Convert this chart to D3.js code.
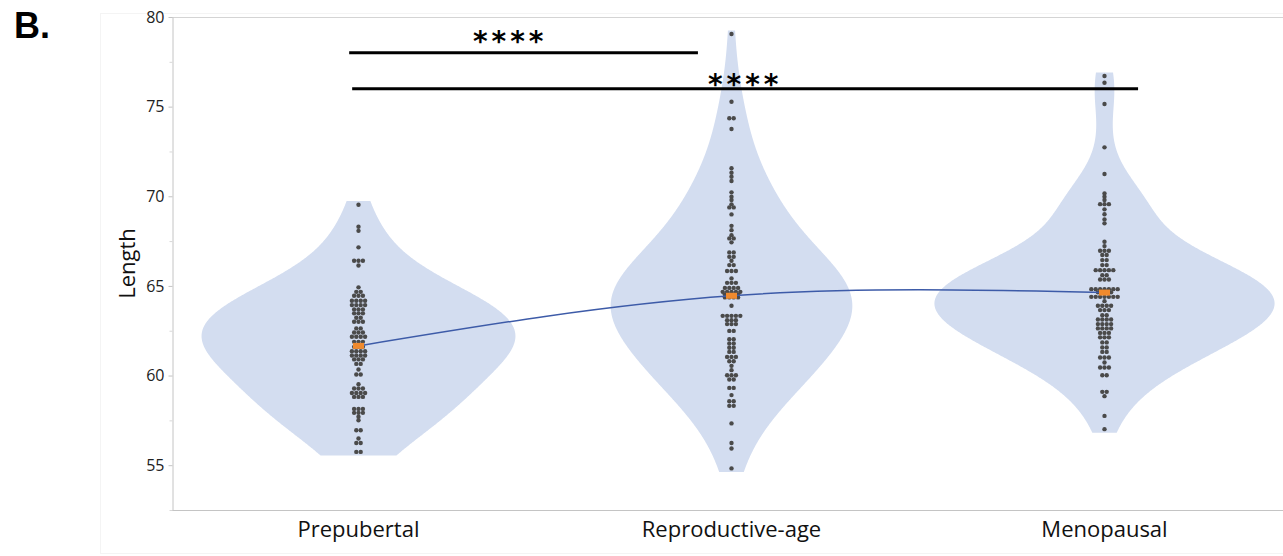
<!DOCTYPE html>
<html>
<head>
<meta charset="utf-8">
<script src="https://cdn.jsdelivr.net/npm/d3@7"></script>
<style>
  body { margin: 0; background: #fff; }
  svg { display: block; }
</style>
</head>
<body>
<div id="chart"></div>
<script>
const categories = ["Prepubertal", "Reproductive-age", "Menopausal"];

// Length values, one entry per dot
const prepubertal = [
  69.53, 68.30, 68.07, 67.15, 66.40, 66.40, 66.40, 66.14,
  64.92, 64.67, 64.67, 64.45, 64.45, 64.45,
  64.17, 64.17, 64.17, 64.17, 63.93, 63.93, 63.93, 63.93,
  63.69, 63.69, 63.69, 63.47, 63.47, 63.47, 63.22, 63.22,
  63.00, 63.00, 63.00, 62.63, 62.63, 62.40, 62.40, 62.40,
  62.16, 62.16, 62.16, 62.16, 61.88, 61.88, 61.88, 61.60, 61.60, 61.60,
  61.36, 61.36, 61.36, 61.36, 61.12, 61.12, 61.12, 61.12,
  60.90, 60.90, 60.90, 60.65, 60.65, 60.34, 60.06, 60.06,
  59.52, 59.28, 59.28, 59.28, 59.03, 59.03, 59.03, 59.03,
  58.81, 58.81, 58.81, 58.14, 58.14, 58.14, 57.92, 57.92, 57.92,
  57.70, 57.51, 56.95, 56.95, 56.49, 56.24, 56.24, 55.74, 55.74
];
const reproductive = [
  79.05, 75.27, 74.35, 74.35, 73.75, 71.56, 71.31, 71.09, 70.85,
  70.22, 69.97, 69.79, 69.55, 69.38, 69.38, 68.99, 68.35, 68.11, 67.83,
  67.65, 67.65, 67.43, 66.87, 66.87, 66.62, 66.62, 66.40, 66.16, 66.16,
  65.83, 65.83, 65.83, 65.42, 65.17, 65.17, 65.17,
  64.89, 64.89, 64.89, 64.89, 64.67, 64.67, 64.67, 64.67, 64.67,
  64.53, 64.53, 64.53, 64.53, 64.36, 64.36, 64.36, 64.36, 63.89,
  63.33, 63.33, 63.33, 63.33, 63.33, 63.09, 63.09, 63.09,
  62.87, 62.87, 62.87, 62.49, 62.49, 62.03, 62.03, 61.79, 61.79,
  61.55, 61.55, 61.32, 61.32, 61.04, 61.04, 61.04, 60.80, 60.80,
  60.54, 60.30, 60.02, 60.02, 60.02, 59.78, 59.78, 59.31, 59.31,
  58.91, 58.57, 58.57, 58.31, 58.31, 57.33, 56.24, 55.93, 54.82
];
const menopausal = [
  76.71, 76.33, 75.15, 72.73, 71.24, 70.16, 69.97, 69.79,
  69.56, 69.56, 69.56, 69.27, 69.00, 68.71, 68.49,
  67.46, 67.22, 66.96, 66.96, 66.96, 66.72, 66.72, 66.44, 66.44,
  66.16, 66.16, 65.88, 65.88, 65.88, 65.88, 65.88, 65.60, 65.60,
  65.36, 65.36, 65.36, 64.82, 64.82, 64.82, 64.82, 64.82, 64.82, 64.82,
  64.64, 64.64, 64.64, 64.64,
  64.39, 64.39, 64.39, 64.39, 64.39, 64.39, 64.39, 64.15,
  63.89, 63.89, 63.89, 63.89, 63.65, 63.65, 63.65, 63.37, 63.37,
  63.13, 63.13, 63.13, 63.13, 62.87, 62.87, 62.87, 62.87,
  62.63, 62.63, 62.63, 62.63, 62.38, 62.38, 62.38, 62.13, 62.13, 62.13,
  61.85, 61.85, 61.57, 61.57, 61.32, 61.32, 61.01, 61.01, 61.01,
  60.73, 60.45, 60.45, 60.45, 60.02, 60.02, 59.09, 59.09, 58.85,
  57.75, 57.01
];
const groupValues = [prepubertal, reproductive, menopausal];

const yTicks = [55, 60, 65, 70, 75, 80];
const yMinorTicks = [52.5, 57.5, 62.5, 67.5, 72.5, 77.5];

// significance brackets, ends given in category index units
const brackets = [
  { from: -0.025, to: 0.91, level: 78, label: "****", labelAt: 0.40, labelLevel: 79.0 },
  { from: -0.017, to: 2.09, level: 76, label: "****", labelAt: 1.03, labelLevel: 76.6 }
];

const width = 1283, height = 556;
const plotLeft = 172, plotTop = 17, plotBottom = 510, plotRight = 1291;

const svg = d3.select('#chart').append('svg')
  .attr('width', width)
  .attr('height', height);

// faint panel edge
svg.append('rect')
  .attr('x', 100.5).attr('y', 13.5)
  .attr('width', 1300).attr('height', 540)
  .attr('fill', 'none')
  .attr('stroke', '#f4f4f4');

const y = d3.scaleLinear().domain([52.5, 80]).range([plotBottom, plotTop]);
const x = d3.scalePoint().domain(categories).range([plotLeft, plotRight]).padding(0.5);
const xi = d3.scaleLinear().domain([0, 1]).range([x(categories[0]), x(categories[1])]);

// kernel density per group, widened Silverman bandwidth
function gauss(u) { return Math.exp(-0.5 * u * u) / Math.sqrt(2 * Math.PI); }
const violins = groupValues.map((vals, i) => {
  const sorted = vals.slice().sort(d3.ascending);
  const sd = d3.deviation(sorted);
  const iqr = d3.quantile(sorted, 0.75) - d3.quantile(sorted, 0.25);
  const h = 1.6 * 0.9 * Math.min(sd, iqr / 1.34) * Math.pow(sorted.length, -0.2);
  const lo = d3.min(sorted) - 0.2, hi = d3.max(sorted) + 0.2;
  const grid = d3.range(lo, hi, 0.05).concat([hi]);
  const dens = grid.map(v => [v, d3.mean(sorted, s => gauss((v - s) / h)) / h]);
  return { cat: categories[i], dens: dens };
});
const maxDens = d3.max(violins, v => d3.max(v.dens, d => d[1]));
const w = d3.scaleLinear().domain([0, maxDens]).range([0, x.step() * 0.456]);

svg.append('g').selectAll('path')
  .data(violins)
  .enter()
  .append('path')
  .attr('d', v => d3.area()
    .x0(d => x(v.cat) - w(d[1]))
    .x1(d => x(v.cat) + w(d[1]))
    .y(d => y(d[0]))
    .curve(d3.curveBasis)(v.dens))
  .attr('fill', '#d3ddf0');

// frame and axes
svg.append('line')
  .attr('x1', plotLeft).attr('x2', width).attr('y1', plotTop + 0.5).attr('y2', plotTop + 0.5)
  .attr('stroke', '#d4d4d4');
svg.append('line')
  .attr('x1', plotLeft).attr('x2', width).attr('y1', plotBottom + 0.5).attr('y2', plotBottom + 0.5)
  .attr('stroke', '#c4c4c4');

const yAxis = svg.append('g')
  .attr('transform', `translate(${plotLeft + 0.5},0)`)
  .call(d3.axisLeft(y).tickValues(yTicks).tickSize(4).tickSizeOuter(0).tickPadding(4));
yAxis.select('.domain').attr('stroke', '#c4c4c4');
yAxis.selectAll('.tick line').attr('stroke', '#c4c4c4');
yAxis.selectAll('.tick text')
  .style('font-family', '"Open Sans", sans-serif')
  .style('font-size', '16px')
  .attr('fill', '#222');

const yMinor = svg.append('g')
  .attr('transform', `translate(${plotLeft + 0.5},0)`)
  .call(d3.axisLeft(y).tickValues(yMinorTicks).tickSize(3).tickFormat(''));
yMinor.select('.domain').remove();
yMinor.selectAll('.tick line').attr('stroke', '#d8d8d8');

svg.append('g').selectAll('text')
  .data(categories)
  .enter()
  .append('text')
  .attr('x', d => x(d))
  .attr('y', 537)
  .attr('text-anchor', 'middle')
  .style('font-family', '"Open Sans", sans-serif')
  .style('font-size', '22px')
  .attr('fill', '#111')
  .text(d => d);

svg.append('text')
  .attr('transform', `translate(135,${(plotTop + plotBottom) / 2})rotate(-90)`)
  .attr('text-anchor', 'middle')
  .style('font-family', '"Open Sans", sans-serif')
  .style('font-size', '22px')
  .attr('fill', '#111')
  .text('Length');

svg.append('text')
  .attr('x', 14).attr('y', 38)
  .style('font-family', '"Liberation Sans", Arial, sans-serif')
  .style('font-weight', 'bold')
  .style('font-size', '36px')
  .attr('fill', '#000')
  .text('B.');

// dots, stacked sideways when they share a value
const dotStep = 4.4;
const dots = [];
groupValues.forEach((vals, i) => {
  d3.group(vals, v => v).forEach((row, v) => {
    row.forEach((_, k) => {
      dots.push({ cat: categories[i], value: v, off: (k - (row.length - 1) / 2) * dotStep });
    });
  });
});
svg.append('g').selectAll('circle')
  .data(dots)
  .enter()
  .append('circle')
  .attr('cx', d => x(d.cat) + d.off)
  .attr('cy', d => y(d.value))
  .attr('r', 2.2)
  .attr('fill', '#4a4a4a');

// line through group means
const means = groupValues.map((vals, i) => ({ cat: categories[i], value: d3.mean(vals) }));
svg.append('path')
  .datum(means)
  .attr('d', d3.line().x(d => x(d.cat)).y(d => y(d.value)).curve(d3.curveNatural))
  .attr('fill', 'none')
  .attr('stroke', '#3d5ba8')
  .attr('stroke-width', 1.5);

svg.append('g').selectAll('rect')
  .data(means)
  .enter()
  .append('rect')
  .attr('x', d => x(d.cat) - 5.5)
  .attr('y', d => y(d.value) - 3)
  .attr('width', 11)
  .attr('height', 6)
  .attr('fill', '#ef8a2e');

// significance brackets
svg.append('g').selectAll('line')
  .data(brackets)
  .enter()
  .append('line')
  .attr('x1', d => xi(d.from)).attr('x2', d => xi(d.to))
  .attr('y1', d => y(d.level)).attr('y2', d => y(d.level))
  .attr('stroke', '#000')
  .attr('stroke-width', 3);

const starSize = 28;
svg.append('g').selectAll('text')
  .data(brackets)
  .enter()
  .append('text')
  .attr('x', d => xi(d.labelAt) + 2.5)
  .attr('y', d => y(d.labelLevel) + starSize * 0.59)
  .attr('text-anchor', 'middle')
  .style('font-family', '"DejaVu Sans", sans-serif')
  .style('font-weight', 'bold')
  .style('font-size', starSize + 'px')
  .style('letter-spacing', '4px')
  .attr('fill', '#000')
  .text(d => d.label);
</script>
</body>
</html>
